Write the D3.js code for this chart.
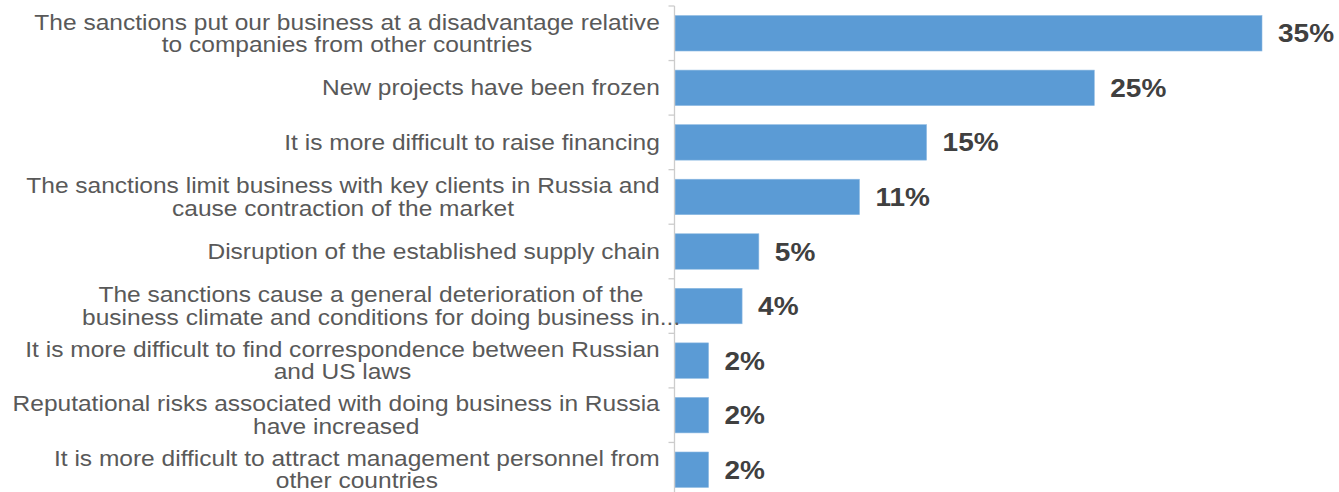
<!DOCTYPE html>
<html>
<head>
<meta charset="utf-8">
<script src="https://cdn.jsdelivr.net/npm/d3@7/dist/d3.min.js"></script>
<style>
  html, body { margin: 0; padding: 0; background: #ffffff; }
  svg { display: block; }
</style>
</head>
<body>
<svg id="chart" width="1339" height="492"></svg>
<script>
// Survey answers: impact of sanctions on business (share of respondents)
const categories = [
  "The sanctions put our business at a disadvantage relative\nto companies from other countries",
  "New projects have been frozen",
  "It is more difficult to raise financing",
  "The sanctions limit business with key clients in Russia and\ncause contraction of the market",
  "Disruption of the established supply chain",
  "The sanctions cause a general deterioration of the\nbusiness climate and conditions for doing business in...",
  "It is more difficult to find correspondence between Russian\nand US laws",
  "Reputational risks associated with doing business in Russia\nhave increased",
  "It is more difficult to attract management personnel from\nother countries"
];
const values = [35, 25, 15, 11, 5, 4, 2, 2, 2];
const valueLabels = ["35%", "25%", "15%", "11%", "5%", "4%", "2%", "2%", "2%"];

const svg = d3.select("#chart");
const font = "'Liberation Sans', Arial, sans-serif";

const axisX = 674.5;
const labelRight = 660;
const textStretch = 1.115;   // labels are drawn slightly widened
const valueStretch = 1.12;
const lineGap = 22.5;

const y = d3.scaleBand()
  .domain(categories)
  .range([6, 497])
  .paddingInner(0.35)
  .paddingOuter(0.175);

const x = d3.scaleLinear()
  .domain([0, 35])
  .range([675, 1262]);

// Bars
svg.append("g")
  .selectAll("rect")
  .data(categories)
  .join("rect")
  .attr("x", x(0))
  .attr("y", d => y(d))
  .attr("width", (d, i) => x(values[i]) - x(0))
  .attr("height", y.bandwidth())
  .attr("fill", "#5b9bd5")
  .attr("stroke", "#8db9e2")
  .attr("stroke-width", 0.6);

// Category axis: vertical line with outward ticks at band boundaries
const axisG = svg.append("g").attr("transform", `translate(${axisX},0)`);
axisG.append("line")
  .attr("x1", 0).attr("x2", 0)
  .attr("y1", y.range()[0]).attr("y2", 500)
  .attr("stroke", "#cccccc").attr("stroke-width", 1.3);
const boundaries = d3.range(categories.length + 1).map(i => y.range()[0] + i * y.step());
axisG.selectAll("line.tick")
  .data(boundaries)
  .join("line")
  .attr("class", "tick")
  .attr("x1", -6).attr("x2", 0)
  .attr("y1", d => d).attr("y2", d => d)
  .attr("stroke", "#cccccc").attr("stroke-width", 1.3);

// Category labels: multi-line blocks, lines centred within the block,
// block right-aligned next to the axis
const labelG = svg.append("g");
categories.forEach(cat => {
  const lines = cat.split("\n");
  const g = labelG.append("g");
  const texts = lines.map(line => g.append("text")
    .attr("font-family", font)
    .attr("font-size", 22)
    .attr("fill", "#595959")
    .attr("text-anchor", "middle")
    .text(line));
  const widths = texts.map(t => t.node().getComputedTextLength() * textStretch);
  const core = texts.map((t, i) => {
    const trimmed = lines[i].replace(/\.+$/, "");
    if (trimmed === lines[i]) return widths[i];
    const probe = g.append("text").attr("font-family", font).attr("font-size", 22).text(trimmed);
    const w = probe.node().getComputedTextLength() * textStretch;
    probe.remove();
    return w;
  });
  const blockW = d3.max(core);
  const cx = labelRight - blockW / 2;
  const cy = y(cat) + y.bandwidth() / 2;
  const top = cy - (lines.length - 1) * lineGap / 2;
  texts.forEach((t, i) => {
    let lx = cx;
    if (core[i] !== widths[i]) lx = cx + (widths[i] - core[i]) / 2;
    t.attr("transform", `translate(${lx},${top + i * lineGap + 7.5}) scale(${textStretch},1)`);
  });
});

// Value labels
svg.append("g")
  .selectAll("text")
  .data(categories)
  .join("text")
  .attr("transform", (d, i) =>
    `translate(${x(values[i]) + 16},${y(d) + y.bandwidth() / 2 + 9}) scale(${valueStretch},1)`)
  .attr("font-family", font)
  .attr("font-size", 25)
  .attr("font-weight", "bold")
  .attr("fill", "#404040")
  .text((d, i) => valueLabels[i]);
</script>
</body>
</html>
